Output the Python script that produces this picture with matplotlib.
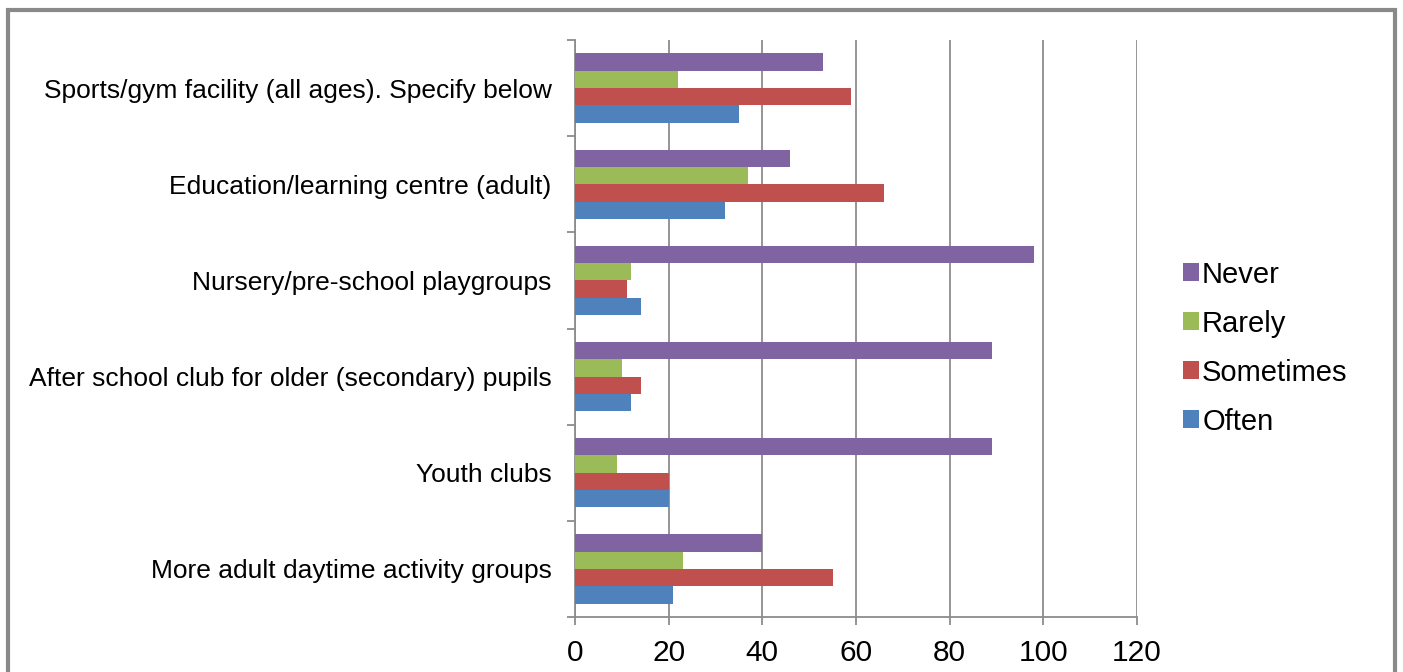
import numpy as np
import matplotlib
matplotlib.use("Agg")
from matplotlib import pyplot as plt
from matplotlib.patches import Rectangle

plt.rcParams['font.family'] = ['Liberation Sans', 'DejaVu Sans']

categories = ["More adult daytime activity groups",
              "Youth clubs",
              "After school club for older (secondary) pupils",
              "Nursery/pre-school playgroups",
              "Education/learning centre (adult)",
              "Sports/gym facility (all ages). Specify below"]

often = [21, 20, 12, 14, 32, 35]
sometimes = [55, 20, 14, 11, 66, 59]
rarely = [23, 9, 10, 12, 37, 22]
never = [40, 89, 89, 98, 46, 53]

series = [("Often", often, "#4F81BD"),
          ("Sometimes", sometimes, "#C0504D"),
          ("Rarely", rarely, "#9BBB59"),
          ("Never", never, "#8064A2")]

fig = plt.figure(figsize=(14.03, 6.72), dpi=100)
ax = fig.add_axes([575/1403, 1-617/672, (1137-575)/1403, (617-40)/672])

y = np.arange(len(categories))
h = 0.18
for i, (name, vals, col) in enumerate(series):
    ax.barh(y + (i - 1.5)*h, vals, height=h, color=col, label=name, zorder=3)

ax.set_xlim(0, 120)
ax.set_ylim(-0.5, len(categories) - 0.5)
ax.set_xticks(np.arange(0, 121, 20))
ax.xaxis.grid(True, color="#8c8c8c", linewidth=1.3, zorder=0)
ax.set_yticks(y)
ax.set_yticklabels(categories, fontsize=19)
ax.set_yticks(np.arange(-0.5, len(categories), 1), minor=True)
ax.tick_params(axis="y", which="major", length=0, pad=17)
ax.tick_params(axis="y", which="minor", length=6, color="#8c8c8c", width=1.3)
ax.tick_params(axis="x", length=6, color="#8c8c8c", width=1.3, labelsize=21.5, pad=10)
for s in ["top", "right"]:
    ax.spines[s].set_visible(False)
for s in ["left", "bottom"]:
    ax.spines[s].set_color("#8c8c8c")
    ax.spines[s].set_linewidth(1.3)

handles, labels = ax.get_legend_handles_labels()
fig.legend(handles[::-1], labels[::-1], loc="center left",
           bbox_to_anchor=(1168/1403, 1-348/672), frameon=False, fontsize=21,
           handlelength=0.55, handleheight=0.55, handletextpad=0.12,
           labelspacing=0.72, borderpad=0)

fig.patches.append(Rectangle((8/1403, -0.1), (1395-8)/1403, 1.1 - 10/672,
                             transform=fig.transFigure, fill=False,
                             edgecolor="#898989", linewidth=3, clip_on=False))

fig.savefig("out.png", dpi=100)
